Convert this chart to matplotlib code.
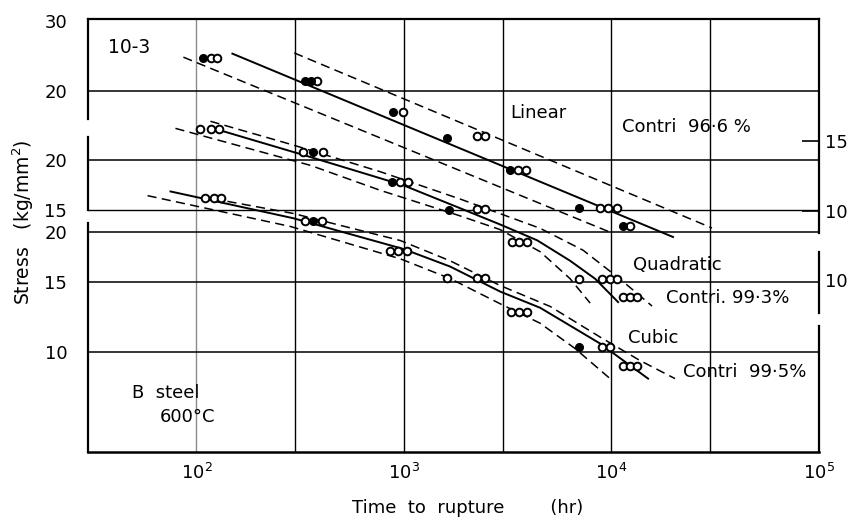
import matplotlib.pyplot as plt

# time to rupture (hr) / stress (kg/mm2); each band is read on its own stress scale
lin_fit_x = [149, 19800]
lin_fit_y = [24.8, 8.63]
lin_up_x = [296, 30500]
lin_up_y = [24.9, 9.09]
lin_lo_x = [86.5, 10070]
lin_lo_y = [24.3, 8.83]

quad_fit_x = [127.6, 354, 992, 1806, 2909, 4385, 6320, 8337, 10760]
quad_fit_y = [23.8, 20.35, 17.3, 15.26, 13.8, 12.6, 11.2, 10.1, 8.83]
quad_up_x = [116.8, 293, 769, 1866, 4532, 7300, 11000, 15690]
quad_up_y = [25.0, 21.8, 18.7, 15.98, 13.5, 11.9, 10.08, 8.63]
quad_lo_x = [79.2, 354, 769, 1866, 2909, 4532, 6320, 7889]
quad_lo_y = [24.0, 19.4, 16.8, 14.5, 13.4, 11.8, 10.1, 8.78]

cub_fit_x = [75.0, 293, 992, 1671, 2909, 4532, 8813, 15010]
cub_fit_y = [25.2, 21.6, 18.1, 16.35, 14.16, 12.9, 10.5, 8.58]
cub_up_x = [141, 293, 960, 1671, 2909, 5063, 8813, 13730, 20240]
cub_up_y = [23.8, 22.2, 19.0, 16.9, 14.66, 13.0, 10.9, 9.52, 8.58]
cub_lo_x = [58.1, 283.5, 960, 1671, 2909, 4532, 6680, 9843]
cub_lo_y = [24.6, 20.6, 17.1, 15.26, 13.2, 11.8, 10.2, 8.58]

# test points
lin_full_x = [108, 335, 358, 888, 1616, 3250, 6980, 11380]
lin_full_y = [24.2, 21.2, 21.2, 17.7, 15.3, 12.7, 10.2, 9.19]
lin_open_x = [117, 126, 382, 992, 2254, 2464, 3550, 3880, 8810, 9640, 10640, 12290]
lin_open_y = [24.2, 24.2, 21.2, 17.7, 15.4, 15.4, 12.7, 12.7, 10.2, 10.2, 10.2, 9.19]

quad_full_x = [366, 879, 1652]
quad_full_y = [20.9, 17.6, 15.0]
quad_open_x = [104.5, 117, 129, 327, 408, 960, 1049, 2254, 2464, 3322, 3590, 3925,
               6980, 9010, 9840, 10640, 11380, 12290, 13280]
quad_open_y = [23.9, 23.9, 23.9, 20.9, 20.9, 17.6, 17.6, 15.1, 15.1, 12.5, 12.5, 12.5,
               10.1, 10.1, 10.1, 10.1, 9.09, 9.09, 9.09]

cub_full_x = [366, 6980]
cub_full_y = [21.2, 10.3]
cub_open_x = [110, 121, 132, 335, 404, 859, 939, 1038, 1616, 2254, 2464, 3286, 3590, 3925,
              9010, 9840, 11380, 12290, 13280]
cub_open_y = [24.2, 24.2, 24.2, 21.2, 21.2, 17.9, 17.9, 17.9, 15.3, 15.3, 15.3, 12.6, 12.6, 12.6,
              10.3, 10.3, 9.25, 9.25, 9.25]

plt.rcParams['font.family'] = ['DejaVu Sans']
fig = plt.figure(figsize=(8.54, 5.21), dpi=100)
pos = [0.1030, 0.1324, 0.8560, 0.8311]

ax = fig.add_axes(pos)            # cubic band + frame
ax_mid = fig.add_axes(pos)        # quadratic band
ax_top = fig.add_axes(pos)        # linear band

ylims = {ax: (5.623, 68.0), ax_mid: (3.725, 45.04), ax_top: (2.503, 30.27)}
for a in (ax, ax_mid, ax_top):
    a.set_xscale('log')
    a.set_yscale('log')
    a.set_xlim(30, 1e5)
    a.set_ylim(*ylims[a])
    a.minorticks_off()
    a.set_facecolor('none')
    for s in a.spines.values():
        s.set_visible(False)
    a.tick_params(axis='both', length=0, labelsize=13, colors='black')
    a.set_xticks([])
    a.set_yticks([])

# grid
ax.axvline(100, color='0.55', lw=1.0)
for xv in [300, 1000, 3000, 1e4, 3e4]:
    ax.axvline(xv, color='black', lw=1.0)
ax_top.axhline(20, color='black', lw=1.1)
ax_mid.axhline(20, color='black', lw=1.1)
ax_mid.axhline(15, color='black', lw=1.0)
for yv in [20, 15, 10]:
    ax.axhline(yv, color='black', lw=1.1)

# frame with breaks on the sides
ax.spines['top'].set_visible(True)
ax.spines['bottom'].set_visible(True)
ax.spines['top'].set_linewidth(1.6)
ax.spines['bottom'].set_linewidth(1.8)
for y0, y1 in [(1.0, 0.769), (0.727, 0.559), (0.529, 0.0)]:
    ax.plot([0, 0], [y0, y1], color='black', lw=1.6, transform=ax.transAxes, clip_on=False)
for y0, y1 in [(1.0, 0.506), (0.462, 0.321), (0.291, 0.0)]:
    ax.plot([1, 1], [y0, y1], color='black', lw=1.6, transform=ax.transAxes, clip_on=False)

# ticks
ax.set_xticks([1e2, 1e3, 1e4, 1e5])
ax.set_xticklabels([r'$10^2$', r'$10^3$', r'$10^4$', r'$10^5$'])
ax.tick_params(axis='x', pad=8)
ax.set_yticks([20, 15, 10])
ax.set_yticklabels(['20', '15', '10'])
ax_mid.set_yticks([20, 15])
ax_mid.set_yticklabels(['20', '15'])
ax_top.set_yticks([30, 20])
ax_top.set_yticklabels(['30', '20'])
for a in (ax, ax_mid, ax_top):
    a.tick_params(axis='y', pad=15)

rt = ax_top.twinx()
rt.set_yscale('log')
rt.set_ylim(*ylims[ax_top])
rt.minorticks_off()
for s in rt.spines.values():
    s.set_visible(False)
rt.set_yticks([15, 10])
rt.set_yticklabels(['15', '10'])
rt.tick_params(axis='y', direction='in', length=12, width=1.2, pad=4, labelsize=13)

rm = ax_mid.twinx()
rm.set_yscale('log')
rm.set_ylim(*ylims[ax_mid])
rm.minorticks_off()
for s in rm.spines.values():
    s.set_visible(False)
rm.set_yticks([10])
rm.set_yticklabels(['10'])
rm.tick_params(axis='y', length=0, pad=4, labelsize=13)

# bands
dash = (6, 3.5)
for a, fx, fy, ux, uy, lx, ly in [
        (ax_top, lin_fit_x, lin_fit_y, lin_up_x, lin_up_y, lin_lo_x, lin_lo_y),
        (ax_mid, quad_fit_x, quad_fit_y, quad_up_x, quad_up_y, quad_lo_x, quad_lo_y),
        (ax, cub_fit_x, cub_fit_y, cub_up_x, cub_up_y, cub_lo_x, cub_lo_y)]:
    a.plot(fx, fy, color='black', lw=1.4, clip_on=False)
    a.plot(ux, uy, color='black', lw=1.1, dashes=dash, clip_on=False)
    a.plot(lx, ly, color='black', lw=1.1, dashes=dash, clip_on=False)

for a, ox, oy, px, py in [
        (ax_top, lin_open_x, lin_open_y, lin_full_x, lin_full_y),
        (ax_mid, quad_open_x, quad_open_y, quad_full_x, quad_full_y),
        (ax, cub_open_x, cub_open_y, cub_full_x, cub_full_y)]:
    a.plot(ox, oy, 'o', ms=5.5, mfc='white', mec='black', mew=1.4, clip_on=False)
    a.plot(px, py, 'o', ms=5.5, mfc='black', mec='black', clip_on=False)

# annotations
tr = ax.transAxes
ax.text(0.0274, 0.935, '10-3', fontsize=13.5, va='center', transform=tr)
ax.text(0.577, 0.783, 'Linear', fontsize=13, va='center', transform=tr)
ax.text(0.7305, 0.7506, 'Contri  96·6 %', fontsize=13, va='center', transform=tr)
ax.text(0.7456, 0.4319, 'Quadratic', fontsize=13, va='center', transform=tr)
ax.text(0.7907, 0.3557, 'Contri. 99·3%', fontsize=13, va='center', transform=tr)
ax.text(0.7387, 0.2633, 'Cubic', fontsize=13, va='center', transform=tr)
ax.text(0.814, 0.1848, 'Contri  99·5%', fontsize=13, va='center', transform=tr)
ax.text(0.0602, 0.1363, 'B  steel', fontsize=13, va='center', transform=tr)
ax.text(0.0985, 0.0808, '600°C', fontsize=13, va='center', transform=tr)

fig.text(468 / 854, (521 - 508) / 521, 'Time  to  rupture        (hr)', fontsize=13,
         ha='center', va='center')
fig.text(23 / 854, (521 - 222) / 521, 'Stress   (kg/mm$^2$)', fontsize=13.5,
         ha='center', va='center', rotation=90)

fig.savefig('out.png', dpi=100)
